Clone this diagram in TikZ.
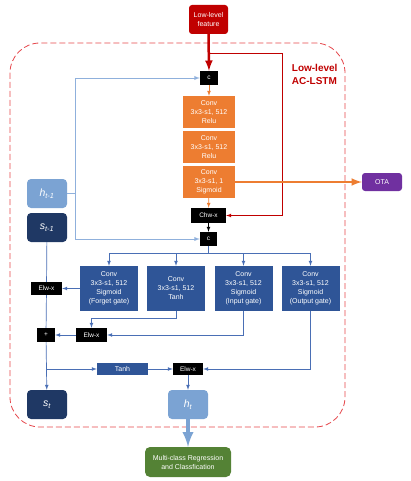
\documentclass[tikz,border=0pt]{standalone}
\usepackage{fontspec}
\setmainfont{Liberation Sans}
\usetikzlibrary{calc}

\definecolor{featred}{HTML}{C00000}
\definecolor{convorange}{HTML}{ED7D31}
\definecolor{otapurple}{HTML}{7030A0}
\definecolor{gateblue}{HTML}{2F5597}
\definecolor{hblue}{HTML}{7BA3D3}
\definecolor{snavy}{HTML}{1F3864}
\definecolor{outgreen}{HTML}{548235}
\definecolor{lineblue}{HTML}{4A6FB5}
\definecolor{lightline}{HTML}{8FB0DC}
\definecolor{frame}{HTML}{E5464B}

\tikzset{
  txt/.style={text=white, font=\fontsize{7}{9}\selectfont, align=center, inner sep=0pt},
  convbox/.style={txt, fill=convorange, minimum width=52pt, minimum height=32pt},
  gatebox/.style={txt, fill=gateblue, minimum width=58pt, minimum height=45pt},
  opbox/.style={txt, fill=black, font=\fontsize{6.5}{7}\selectfont},
  statebox/.style={txt, rounded corners=4pt, minimum width=40pt, minimum height=29pt,
    font=\fontsize{10.5}{12}\selectfont\itshape},
  bline/.style={lineblue, line width=0.7pt},
}

\begin{document}
\begin{tikzpicture}[x=1pt, y=-1pt, >=latex]
\useasboundingbox (0,0) rectangle (411,481);

% frame of the cell
\draw[frame, dash pattern=on 6pt off 3pt, line width=0.8pt, rounded corners=30pt] (10,43) rectangle (345,427);
\node[anchor=east, text=featred, align=left, font=\fontsize{10}{13}\selectfont\bfseries] (title) at (341,74) {Low-level\\AC-LSTM};

% attention branch
\node[txt, fill=featred, rounded corners=3pt, minimum width=39pt, minimum height=29pt] (feat) at (208.5,19.5) {Low-level\\feature};
\node[opbox, minimum width=18pt, minimum height=14pt] (c1) at (209,78) {c};
\node[convbox] (conv1) at (209,112) {Conv\\3x3-s1, 512\\Relu};
\node[convbox] (conv2) at (209,147) {Conv\\3x3-s1, 512\\Relu};
\node[convbox] (conv3) at (209,182) {Conv\\3x3-s1, 1\\Sigmoid};
\node[txt, fill=otapurple, rounded corners=3pt, minimum width=40pt, minimum height=18pt] (ota) at (382,182) {OTA};
\node[opbox, minimum width=35pt, minimum height=15pt] (chw) at (208.5,215.5) {Chw-x};
\node[opbox, minimum width=17pt, minimum height=14pt] (c2) at (208.5,239) {c};

% states
\node[statebox, fill=hblue] (hprev) at (47,193.5) {h\textsubscript{t-1}};
\node[statebox, fill=snavy] (sprev) at (47,227.5) {s\textsubscript{t-1}};
\node[statebox, fill=snavy] (scur) at (47,404.5) {s\textsubscript{t}};
\node[statebox, fill=hblue] (hcur) at (188,404.5) {h\textsubscript{t}};

% gates
\node[gatebox] (forget) at (109,288.5) {Conv\\3x3-s1, 512\\Sigmoid\\(Forget gate)};
\node[gatebox] (tanhc) at (176,288.5) {Conv\\3x3-s1, 512\\Tanh};
\node[gatebox] (input) at (243.5,288.5) {Conv\\3x3-s1, 512\\Sigmoid\\(Input gate)};
\node[gatebox] (output) at (310.5,288.5) {Conv\\3x3-s1, 512\\Sigmoid\\(Output gate)};

\node[opbox, minimum width=31pt, minimum height=13pt] (elw1) at (46.5,288.5) {Elw-x};
\node[opbox, minimum width=18pt, minimum height=14pt] (plus) at (46,335) {+};
\node[opbox, minimum width=31pt, minimum height=14pt] (elw2) at (91.5,335) {Elw-x};
\node[txt, fill=gateblue, minimum width=51pt, minimum height=12pt] (tanh) at (122.5,369) {Tanh};
\node[opbox, minimum width=30pt, minimum height=12pt] (elw3) at (188,369) {Elw-x};

\node[txt, fill=outgreen, rounded corners=5pt, minimum width=86pt, minimum height=30pt,
  font=\fontsize{7}{9}\selectfont] (out) at (188,462) {Multi-class Regression\\and Classfication};

% top part
\draw[featred, line width=2.5pt, ->] (feat.south) -- (c1.north);
\coordinate (rtap) at (209,53);
\coordinate (rturn) at (282,53);
\draw[featred, line width=0.7pt, ->] (rtap) -- (rturn) |- (chw.east);
\coordinate (hbus) at (75,193.5);
\draw[lightline, line width=0.9pt] (hprev.east) -- (hbus);
\draw[lightline, line width=0.9pt, ->] (hbus) |- (c1.west);
\draw[lightline, line width=0.9pt, ->] (hbus) |- (c2.west);
\draw[convorange, line width=0.7pt, ->] (c1) -- (conv1);
\draw[convorange, line width=0.7pt, ->] (conv3) -- (chw);
\draw[convorange, line width=2.5pt, ->] (conv3.east) -- (ota.west);
\draw[line width=0.7pt, ->] (chw) -- (c2);

% to the gates
\coordinate (gbus) at (208.5,253);
\draw[bline] (c2) -- (gbus);
\foreach \g in {forget,tanhc,input,output}
  \draw[bline, ->] (gbus) -| (\g.north);

% cell state
\draw[bline] (sprev) -- (elw1);
\draw[bline, ->] (forget) -- (elw1);
\draw[bline] (elw1) -- (plus);
\coordinate (tb) at (176,318);
\draw[bline, ->] (tanhc.south) -- (tb) -| (elw2.north);
\draw[bline, ->] (input.south) |- (elw2.east);
\draw[bline, ->] (elw2) -- (plus);
\draw[bline, ->] (plus) -- (scur);
\coordinate (sb) at (plus.south |- tanh.west);
\draw[bline, ->] (sb) -- (tanh.west);
\draw[bline, ->] (tanh) -- (elw3);
\draw[bline, ->] (output.south) |- (elw3.east);
\draw[bline, ->] (elw3) -- (hcur);
\draw[hblue, line width=4pt, ->] (hcur.south) -- (out.north);

\end{tikzpicture}
\end{document}
